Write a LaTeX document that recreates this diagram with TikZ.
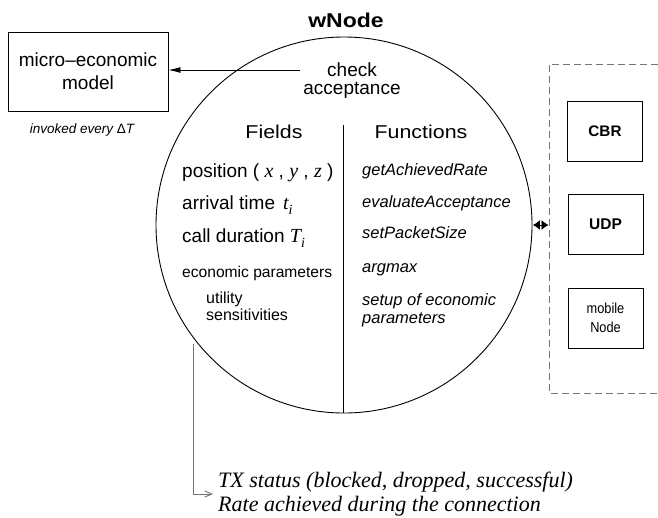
\documentclass[tikz,border=0pt]{standalone}
\usepackage{fontspec}
\setmainfont{Liberation Sans}
\newfontfamily\widefont{Liberation Sans}[FakeStretch=1.15]
\newfontfamily\narrowfont{Liberation Sans}[FakeStretch=0.88]
\newfontfamily\serifface{Liberation Serif}
\usetikzlibrary{arrows.meta,calc}

% font size helper and Times-like italic variables
\newcommand{\setsize}[1]{\fontsize{#1}{#1}\selectfont}
\newcommand{\mvar}[1]{{\serifface\itshape\fontsize{20}{20}\selectfont #1}}
\newcommand{\msub}[1]{\raisebox{-5pt}{\serifface\itshape\fontsize{14}{14}\selectfont #1}}

\tikzset{
  box/.style={draw, line width=0.9pt, inner sep=0pt, minimum width=75pt, minimum height=60pt},
  rowtext/.style={anchor=base west, inner sep=0pt},
  fieldrow/.style={rowtext, font=\setsize{19}},
  funcrow/.style={rowtext, font=\itshape\setsize{16.5}},
  header/.style={anchor=base, inner sep=0pt, font=\widefont\setsize{18.6}},
  dashbox/.style={draw=black!55, line width=0.9pt, dash pattern=on 7pt off 4pt},
  callarrow/.style={line width=0.9pt, -{Latex[length=12pt,width=6pt]}},
  linkarrow/.style={line width=0.9pt, shorten <=0.5pt, shorten >=0.5pt,
    {Latex[length=7pt,width=10pt]}-{Latex[length=7pt,width=10pt]}},
  statusarrow/.style={draw=black!55, line width=0.9pt, -{Straight Barb[length=7pt,width=6pt]}}
}

\begin{document}
\begin{tikzpicture}[x=1pt, y=-1pt]
\useasboundingbox (0,0) rectangle (658,517);

% the wNode object
\node[circle, draw, line width=0.9pt, minimum size=376pt, inner sep=0pt] (w) at (344,225) {};
\node[anchor=base, inner sep=0pt, font=\widefont\bfseries\setsize{20}] (title) at (346,27) {wNode};

% micro-economic model
\node[draw, line width=0.9pt, inner sep=0pt, minimum width=160pt, minimum height=79pt,
      align=center, font={\fontsize{19}{23}\selectfont}] (micro) at (88,71.5) {micro--economic\\model};
\node[anchor=base, inner sep=0pt, font=\itshape\setsize{13.5}] (every) at (82,133)
  {invoked every {\upshape Δ}T};

% check acceptance call
\node[align=center, inner sep=0pt, font={\fontsize{19}{18}\selectfont}] (check) at (352,81) {check\\acceptance};
\coordinate (callstart) at (300,70);
\draw[callarrow] (callstart) -- (callstart -| micro.east);

% fields / functions columns
\node[header] (fields) at (274,138) {Fields};
\node[header] (functions) at (421,138) {Functions};
\coordinate (divtop) at (343,125);
\draw[line width=0.9pt] (divtop) -- (divtop |- w.south);

\node[fieldrow] (pos) at (182,177) {position ( \mvar{x} , \mvar{y} , \mvar{z} )};
\node[fieldrow] (arr) at (182,209) {arrival time\hspace{8pt}\mvar{t}\msub{i}};
\node[fieldrow] (dur) at (182,242) {call duration \mvar{T}\msub{i}};
\node[rowtext, font=\setsize{15.6}] (econ) at (182,277) {economic parameters};
\node[rowtext, font=\setsize{16}] (util) at (206,303) {utility};
\node[rowtext, font=\setsize{16}] (sens) at (206,320) {sensitivities};

\node[funcrow] (f1) at (362,175) {getAchievedRate};
\node[funcrow] (f2) at (362,207) {evaluateAcceptance};
\node[funcrow] (f3) at (362,238) {setPacketSize};
\node[funcrow] (f4) at (362,272) {argmax};
\node[funcrow] (f5) at (362,305) {setup of economic};
\node[funcrow] (f6) at (362,323) {parameters};

% protocol stack of the node
\coordinate (dtl) at (549,64);
\coordinate (dbl) at (549,393);
\coordinate (dtr) at (658,64);
\coordinate (dbr) at (658,393);
\draw[dashbox] (dtr) -- (dtl) -- (dbl) -- (dbr);
\node[box, font=\bfseries\setsize{15.3}] (cbr) at (605,131) {CBR};
\node[box, font=\bfseries\setsize{15.5}] (udp) at (605.5,224) {UDP};
\node[box, align=center, font={\narrowfont\fontsize{14.5}{19}\selectfont}] (mob) at (605.5,318) {mobile\\Node};
\draw[linkarrow] (w.east) -- (w.east -| dtl);

% reported status
\node[anchor=west, align=left, inner sep=0pt, font={\serifface\itshape\fontsize{22}{23.4}\selectfont}] (status) at (218,494)
  {TX status (blocked, dropped, successful)\\Rate achieved during the connection};
\coordinate (tail) at (193,344);
\draw[statusarrow] (tail) |- ([xshift=-5pt]status.west);
\end{tikzpicture}
\end{document}
